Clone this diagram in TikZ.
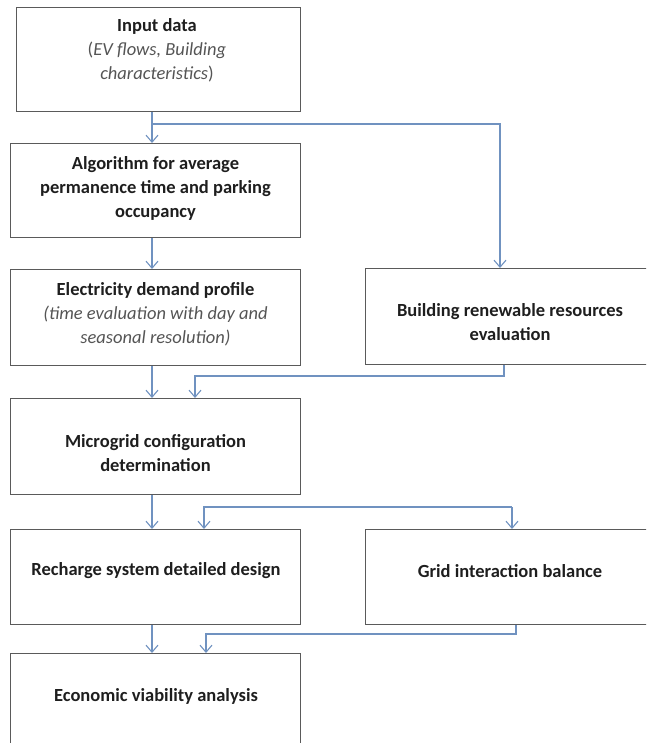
\documentclass[tikz,border=0pt]{standalone}
\usepackage{fontspec}
\setmainfont{Carlito}
\usetikzlibrary{arrows.meta}
\definecolor{boxline}{HTML}{5A5A5A}
\definecolor{conn}{HTML}{7092C0}
\definecolor{txt}{HTML}{1E1E1E}
\definecolor{itx}{HTML}{555555}
\begin{document}
\begin{tikzpicture}[x=1pt,y=-1pt,
  box/.style={draw=boxline, line width=1.4pt, inner sep=0pt, anchor=north west},
  lbl/.style={text=txt, align=center, inner sep=0pt, font=\fontsize{18.5}{24}\selectfont\bfseries},
  sub/.style={text=itx, font=\fontsize{18.5}{24}\selectfont\mdseries},
  conn/.style={draw=conn, line width=1.2pt},
  arr/.style={conn, -{Straight Barb[length=7pt,width=12pt,line width=1.1pt]}}]
\useasboundingbox (0,0) rectangle (646,743);
\clip (0,0) rectangle (646,743);
% boxes
\node[box, minimum width=284.4pt, minimum height=104pt] (b1) at (15.6,7) {};
\node[box, minimum width=290pt, minimum height=94pt] (b2) at (10,143) {};
\node[box, minimum width=290pt, minimum height=96pt] (b3) at (10,269) {};
\node[box, minimum width=282pt, minimum height=96pt] (b4) at (365,268) {};
\node[box, minimum width=290pt, minimum height=96pt] (b5) at (10,398) {};
\node[box, minimum width=290pt, minimum height=95pt] (b6) at (10,529) {};
\node[box, minimum width=282pt, minimum height=95pt] (b7) at (365,529) {};
\node[box, minimum width=290pt, minimum height=96pt] (b8) at (10,653) {};
% labels
\node[lbl] (t1) at (157,50) {Input data\\{\mdseries\color{itx}(\textit{EV flows, Building}}\\{\mdseries\color{itx}\textit{characteristics})}};
\node[lbl] (t2) at (155.5,188) {Algorithm for average\\permanence time and parking\\occupancy};
\node[lbl] (t3) at (155.5,314) {Electricity demand profile\\{\mdseries\itshape\color{itx}(time evaluation with day and}\\{\mdseries\itshape\color{itx}seasonal resolution)}};
\node[lbl] (t4) at (510,322) {Building renewable resources\\evaluation};
\node[lbl] (t5) at (155.5,453) {Microgrid configuration\\determination};
\node[lbl] (t6) at (156,571) {Recharge system detailed design};
\node[lbl] (t7) at (510,571) {Grid interaction balance};
\node[lbl] (t8) at (156,696) {Economic viability analysis};
% connector columns
\coordinate (xa) at (152,0);
\coordinate (xb) at (500,0);
\coordinate (xc) at (504,0);
\coordinate (xd) at (195,0);
\coordinate (xe) at (204,0);
\coordinate (xf) at (512,0);
\coordinate (xg) at (516,0);
\coordinate (xh) at (206,0);
\coordinate (s1) at (152,124);
\coordinate (s2) at (500,124);
\coordinate (s3) at (504,376);
\coordinate (s4) at (195,376);
\coordinate (s5) at (204,507);
\coordinate (s6) at (512,507);
\coordinate (s7) at (516,634);
\coordinate (s8) at (206,634);
% connectors
\draw[arr] (b1.south -| xa) -- (b2.north -| xa);
\draw[arr] (s1) -- (s2) -- (b4.north -| xb);
\draw[arr] (b2.south -| xa) -- (b3.north -| xa);
\draw[arr] (b3.south -| xa) -- (b5.north -| xa);
\draw[arr] (b4.south -| xc) -- (s3) -- (s4) -- (b5.north -| xd);
\draw[arr] (b5.south -| xa) -- (b6.north -| xa);
\draw[arr] (s6) -- (s5) -- (b6.north -| xe);
\draw[arr] (s6) -- (b7.north -| xf);
\draw[arr] (b6.south -| xa) -- (b8.north -| xa);
\draw[arr] (b7.south -| xg) -- (s7) -- (s8) -- (b8.north -| xh);
\end{tikzpicture}
\end{document}
